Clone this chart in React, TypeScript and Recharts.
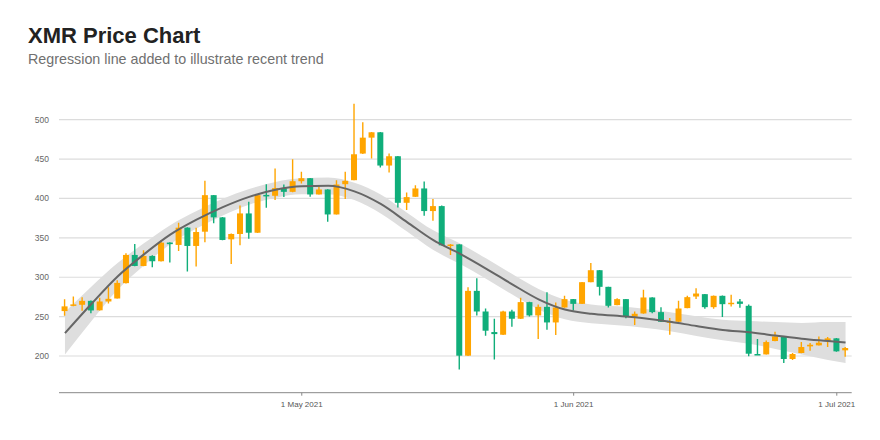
import React from 'react';
import { ComposedChart, Bar, Line, Area, XAxis, YAxis, CartesianGrid } from 'recharts';

// daily XMR candles, day 0 = 4 Apr 2021
const opens = [
  257, 264, 265, 270, 258, 269.2, 273, 292.5, 328.3, 314.3,
  327, 320.3, 344, 341, 363, 339.7, 357.8, 404.2, 376, 348.1,
  354.9, 381, 356.5, 404.5, 403.4, 413.1, 408.4, 421.9, 425.7, 405.1,
  411.4, 379.7, 418.1, 423.2, 457, 477.2, 484, 441.8, 453.6, 394.5,
  402.1, 412.7, 384, 390.3, 340.5, 341.7, 200.4, 282.7, 256.5, 230.4,
  227, 256.5, 247.3, 268.4, 251.5, 262.4, 242.6, 261.6, 272.2, 266.2,
  293.7, 308.9, 287.8, 264.6, 272.2, 249.8, 254, 274.3, 255.7, 243,
  243.5, 260.8, 275.5, 278.5, 262, 276.4, 266, 269.2, 263.7, 202.5,
  202, 219, 224.9, 196.2, 203.8, 212.2, 213.5, 219, 222.4, 207.2,
];
const highs = [
  272, 275.5, 274.7, 270.5, 273.8, 287.3, 296.2, 330.4, 342.2, 334.2,
  327.8, 347.3, 344.5, 369.2, 363.5, 362.9, 422.4, 404.5, 376.5, 355.5,
  391.1, 395.8, 404.5, 418.1, 438, 417.7, 449.8, 433.8, 426, 414.8,
  411.7, 423.2, 433.8, 520.3, 496.6, 484.3, 484.3, 457, 454, 407.6,
  416.9, 421.5, 399.2, 391, 342.2, 342, 287.3, 298.7, 260.3, 247.3,
  257.4, 258.6, 273.8, 269, 265.4, 281, 267.9, 276.4, 272.5, 294,
  318.1, 309.2, 288, 273.4, 272.5, 256.5, 284, 274.6, 262, 248.1,
  270, 276.4, 286.1, 278.8, 276.7, 276.7, 277.6, 272.2, 265.4, 221.5,
  219.8, 230.8, 225.2, 203.8, 217.7, 216.5, 224.9, 224, 222.7, 211.4,
];
const lows = [
  251, 263, 257.4, 254.4, 257.8, 266.7, 273, 292, 314, 314,
  312.7, 320, 318.6, 333.3, 307.2, 313.5, 344.3, 368.4, 347, 316.9,
  340.5, 348.9, 356, 388.2, 397.9, 401.7, 408, 419, 402.1, 405,
  370.5, 379.5, 399.2, 423, 456.5, 450.6, 439.2, 432.9, 388.6, 385.2,
  402, 378, 371.7, 340.5, 328.3, 182.7, 200, 251.5, 225.7, 195.4,
  226.8, 237.1, 247, 250.2, 221.5, 233.3, 226.6, 261.3, 257.8, 266,
  293.5, 276.8, 261.6, 264.3, 248, 239.2, 253.7, 254.4, 243.3, 227,
  243.2, 260.5, 272.2, 259.9, 259.9, 249.4, 262.9, 261.2, 199.6, 201.3,
  201.8, 218.8, 191.1, 194.9, 203.5, 206.8, 213.2, 211.4, 205.5, 199,
];
const closes = [
  263, 265.5, 270, 257.8, 269.2, 272.6, 292.8, 328.3, 314.3, 327,
  320.3, 343.9, 342, 362.9, 339.7, 357.4, 404.2, 376, 347.3, 354.9,
  381, 356.5, 404.2, 403, 413.1, 408.4, 421.9, 425.7, 405.1, 411.4,
  379.7, 417.7, 422.4, 456.1, 477.2, 484, 441.8, 453.6, 394.5, 401.7,
  412.7, 384, 390.3, 340.5, 341.5, 200.4, 282.7, 256.5, 232.1, 227.8,
  256.5, 247.3, 268.4, 251.5, 262.4, 242.6, 261.6, 272.2, 266.2, 293.7,
  308.9, 287.8, 263.7, 272.2, 249.8, 253.6, 274.3, 255.7, 243.5, 244,
  260.3, 274.7, 279.3, 262, 276.4, 265.8, 267.6, 266.2, 202.9, 201.7,
  217.7, 224.9, 196.2, 202.5, 211.4, 214.3, 216.9, 222.4, 205.9, 210.1,
];

// smoothed regression line with its confidence band, read every 3 days
const fitDays = [0, 3, 6, 9, 12, 15, 18, 21, 24, 27, 30, 33, 36, 39, 42, 45, 48, 51, 54, 57, 60, 63, 66, 69, 72, 75, 78, 81, 84, 87, 89];
const fitValues = [229, 266, 301, 329, 354, 373, 389, 402, 411, 415.5, 416, 409, 393, 370, 347, 330, 311, 291, 272, 259, 253.5, 251, 248, 243.5, 238, 233, 230, 226, 222, 219, 217];
const bandLower = [202, 244, 284, 315, 342, 362, 378.5, 392, 401, 405.5, 405.5, 398, 381, 358, 334.5, 317, 298, 278, 259, 246.5, 241.5, 239, 236, 231.5, 225.5, 220, 215.5, 209, 202, 195, 191];
const bandUpper = [256, 288, 318, 343, 366, 384, 399.5, 412, 421, 425.5, 426.5, 420, 405, 382, 359.5, 343, 324, 304, 285, 271.5, 265.5, 263, 260, 255.5, 250.5, 246, 244.5, 243, 242, 243, 243];

const xTickDays = [27, 58, 88];
const xTickLabels = ['1 May 2021', '1 Jun 2021', '1 Jul 2021'];
const yTicks = [200, 250, 300, 350, 400, 450, 500];

const UP = '#ffa500';
const DOWN = '#10ae7a';

const data = opens.map((open, i) => {
  const k = fitDays.indexOf(i);
  return {
    day: i,
    open,
    high: highs[i],
    low: lows[i],
    close: closes[i],
    range: [lows[i], highs[i]],
    fit: k >= 0 ? fitValues[k] : null,
    band: k >= 0 ? [bandLower[k], bandUpper[k]] : null,
  };
});

const Candle = (props: any) => {
  const { x, y, width, height, payload } = props;
  if (!payload || x == null) return null;
  const { open, close, high, low } = payload;
  const color = close >= open ? UP : DOWN;
  const top = Math.min(y, y + height);
  const h = Math.abs(height);
  const ratio = high > low ? h / (high - low) : 0;
  const bodyTop = top + (high - Math.max(open, close)) * ratio;
  const bodyH = Math.max(Math.abs(open - close) * ratio, 1.5);
  const cx = x + width / 2;
  return (
    <g>
      <line x1={cx} x2={cx} y1={top} y2={top + h} stroke={color} strokeWidth={1.4} />
      <rect x={x} y={bodyTop} width={width} height={bodyH} fill={color} />
    </g>
  );
};

export default function App() {
  return (
    <div style={{ position: 'absolute', left: 0, top: 0, width: 880, height: 440, background: '#fff', fontFamily: '"Liberation Sans", Arial, sans-serif' }}>
      <div style={{ position: 'absolute', left: 28, top: 25.4, fontSize: 22, lineHeight: '22px', fontWeight: 700, color: '#222', whiteSpace: 'nowrap' }}>
        XMR Price Chart
      </div>
      <div style={{ position: 'absolute', left: 28, top: 52.2, fontSize: 14.3, lineHeight: '14.3px', color: '#707070', whiteSpace: 'nowrap' }}>
        Regression line added to illustrate recent trend
      </div>
      <ComposedChart
        width={880}
        height={440}
        data={data}
        margin={{ top: 100, right: 28.3, bottom: 17.3, left: 19 }}
      >
        <CartesianGrid vertical={false} horizontalValues={yTicks} stroke="#dcdcdc" strokeWidth={1.2} />
        <XAxis
          type="number"
          dataKey="day"
          domain={[-0.68, 89.7]}
          allowDataOverflow
          ticks={xTickDays}
          tickFormatter={(v: number) => xTickLabels[xTickDays.indexOf(v)]}
          height={30}
          axisLine={{ stroke: '#888' }}
          tickLine={{ stroke: '#888' }}
          tickSize={3}
          tickMargin={6}
          tick={{ fontSize: 8, fill: '#555', fontFamily: '"Liberation Sans Narrow", "Liberation Sans", sans-serif' }}
        />
        <YAxis
          type="number"
          domain={[153.4, 525]}
          allowDataOverflow
          ticks={yTicks}
          width={40}
          axisLine={false}
          tickLine={false}
          tickMargin={4}
          tick={{ fontSize: 8.5, fill: '#666', fontFamily: '"Liberation Sans", sans-serif' }}
        />
        <Area
          dataKey="band"
          type="monotone"
          connectNulls
          stroke="none"
          fill="#dedede"
          fillOpacity={1}
          isAnimationActive={false}
        />
        <Bar dataKey="range" barSize={6} shape={<Candle />} isAnimationActive={false} />
        <Line
          dataKey="fit"
          type="monotone"
          connectNulls
          stroke="#666"
          strokeWidth={2}
          dot={false}
          isAnimationActive={false}
        />
      </ComposedChart>
    </div>
  );
}
